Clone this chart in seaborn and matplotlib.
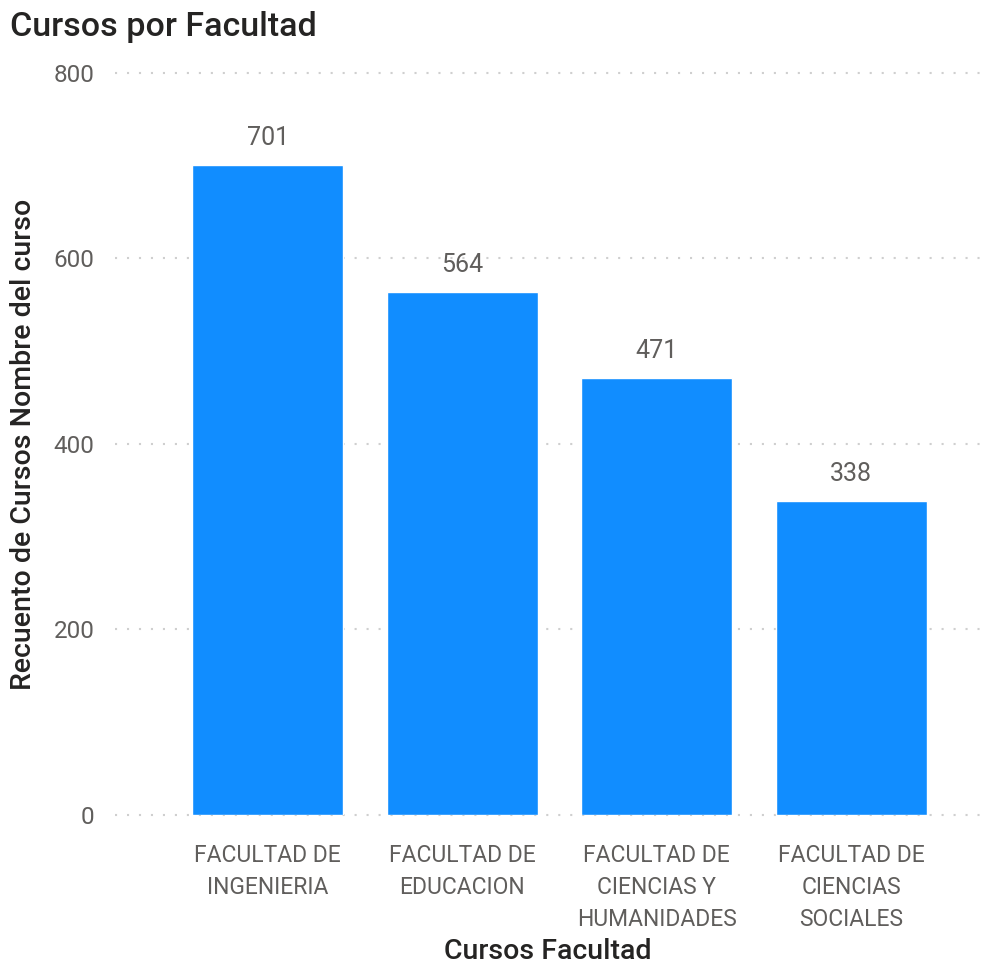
import matplotlib
matplotlib.use("Agg")
import matplotlib.pyplot as plt
import seaborn as sns
import pandas as pd

facultades = [
    "FACULTAD DE\nINGENIERIA",
    "FACULTAD DE\nEDUCACION",
    "FACULTAD DE\nCIENCIAS Y\nHUMANIDADES",
    "FACULTAD DE\nCIENCIAS\nSOCIALES",
]
recuento = [701, 564, 471, 338]
y_ticks = [0, 200, 400, 600, 800]

sns.set_theme(style="white")
plt.rcParams["font.family"] = ["Roboto", "DejaVu Sans"]

df = pd.DataFrame({"facultad": facultades, "recuento": recuento})

fig = plt.figure(figsize=(9.84, 9.64), dpi=100)
ax = fig.add_axes([0.117, 0.1546, 0.879, 0.7697])

sns.barplot(data=df, x="facultad", y="recuento", color="#118DFF",
            saturation=1, width=0.776, ax=ax)

ax.set_ylim(0, 800)
ax.set_xlim(-0.784, 3.663)
ax.set_yticks(y_ticks)
ax.set_yticklabels([str(t) for t in y_ticks])

for s in ax.spines.values():
    s.set_visible(False)

ax.grid(axis="y", color="#CFCFCF", linestyle=(0, (1, 4.75)), linewidth=1.5)
ax.grid(axis="x", visible=False)
ax.set_axisbelow(True)
for gl in ax.get_ygridlines():
    gl.set_clip_on(False)

ax.tick_params(axis="y", length=0, pad=15, labelsize=17.5, labelcolor="#605E5C")
ax.tick_params(axis="x", length=0, pad=21, labelsize=16.5, labelcolor="#605E5C")
for lbl in ax.get_xticklabels():
    lbl.set_linespacing(1.5)

ax.bar_label(ax.containers[0], fmt="%d", padding=11, fontsize=18, color="#605E5C")

ax.set_xlabel("Cursos Facultad", fontsize=20.5, color="#252423",
              fontweight="medium", labelpad=5)
ax.set_ylabel("Recuento de Cursos Nombre del curso", fontsize=20.5,
              color="#252423", fontweight="medium", labelpad=12)

fig.text(0.010, 0.972, "Cursos por Facultad", fontsize=24.5, color="#252423",
         fontweight="medium", ha="left", va="center")

fig.savefig("out.png", dpi=100, facecolor="white")
